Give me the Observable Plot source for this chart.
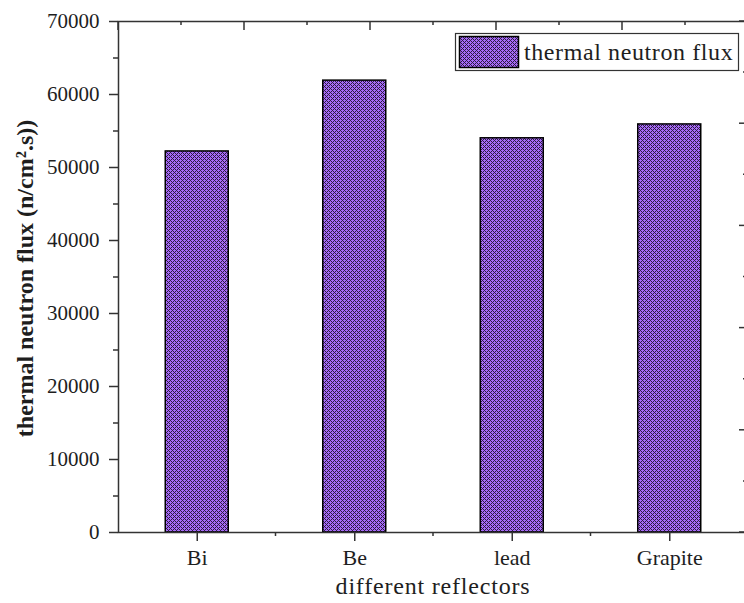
<!DOCTYPE html>
<html>
<head>
<meta charset="utf-8">
<script src="https://cdn.jsdelivr.net/npm/d3@7"></script>
<script src="https://cdn.jsdelivr.net/npm/@observablehq/plot@0.6"></script>
<style>
  html, body { margin: 0; padding: 0; overflow: hidden; background: #fff; }
  #chart { width: 744px; height: 603px; overflow: hidden; position: relative; }
  #chart svg { display: block; max-width: none !important; }
</style>
</head>
<body>
<div id="chart"></div>
<script>
// Thermal neutron flux for each reflector material
const reflectors = ["Bi", "Be", "lead", "Grapite"];
const thermalFlux = [52200, 61900, 54000, 55900];

// Axis ticks
const yMajorTicks = [0, 10000, 20000, 30000, 40000, 50000, 60000, 70000];
const yMinorTicks = [5000, 15000, 25000, 35000, 45000, 55000, 65000];
const yDomain = [0, 70000];

// Texts
const seriesName = "thermal neutron flux";
const xTitle = "different reflectors";
const yTitle = "thermal neutron flux (n/cm\u00B2.s))";

const data = reflectors.map((r, i) => ({ reflector: r, flux: thermalFlux[i] }));

const W = 752, H = 603;
const mL = 118, mR = 4, mT = 21, mB = 71;
const serif = "'Liberation Serif', 'Times New Roman', Times, serif";
const ink = "#1e1e1e";
const axisInk = "#333";
const purple = "#a66af7";
const purpleDark = "#2e1c44";

const plot = Plot.plot({
  width: W,
  height: H,
  marginLeft: mL,
  marginRight: mR,
  marginTop: mT,
  marginBottom: mB,
  style: { fontFamily: serif, color: ink, background: "transparent", overflow: "visible" },
  x: { domain: reflectors, paddingInner: 0.6, paddingOuter: 0.3, align: 0.5, round: false },
  y: { domain: yDomain },
  marks: [
    Plot.barY(data, { x: "reflector", y: "flux", fill: "url(#hatch)", stroke: "#000", strokeWidth: 1.5 }),
    Plot.axisY({ ticks: yMajorTicks, tickSize: 9, tickPadding: 10, tickFormat: d => String(d),
                 fontSize: 21, stroke: axisInk, strokeWidth: 1.5, label: null }),
    Plot.axisY({ ticks: yMinorTicks, tickSize: 5, tickFormat: () => "", stroke: axisInk, strokeWidth: 1.5, label: null }),
    Plot.axisX({ tickSize: 9, tickPadding: 8, fontSize: 22, stroke: axisInk, strokeWidth: 1.5, label: null }),
    Plot.frame({ stroke: axisInk, strokeWidth: 1.5 })
  ]
});

document.getElementById("chart").appendChild(plot);

const svg = d3.select(plot);

// Cross-hatch fill used by the bars and the legend swatch
const defs = svg.insert("defs", ":first-child");
const pat = defs.append("pattern")
  .attr("id", "hatch")
  .attr("patternUnits", "userSpaceOnUse")
  .attr("width", 4).attr("height", 4)
  .attr("shape-rendering", "crispEdges");
pat.append("rect").attr("width", 4).attr("height", 4).attr("fill", purple);
[[2, 0], [1, 1], [3, 1], [0, 2], [1, 3], [3, 3]].forEach(([cx, cy]) => {
  pat.append("rect").attr("x", cx).attr("y", cy).attr("width", 1).attr("height", 1).attr("fill", purpleDark);
});

const deco = svg.append("g").attr("stroke", axisInk).attr("stroke-width", 1.5);

// Minor ticks between categories on the bottom axis
const xs = plot.scale("x");
const centers = reflectors.map(r => xs.apply(r) + xs.bandwidth / 2);
const step = centers[1] - centers[0];
const yBottom = H - mB;
centers.slice(0, -1).forEach(c => {
  deco.append("line").attr("x1", c + step / 2).attr("x2", c + step / 2)
    .attr("y1", yBottom).attr("y2", yBottom + 4);
});

// Secondary top and right axes (ticks only, pointing inward)
const top2 = d3.scaleLinear().domain([0, 5]).range([mL, W - mR]);
const right2 = d3.scaleLinear().domain([0, 5]).range([H - mB, mT]);
d3.range(0, 5.01, 0.5).forEach(v => {
  const major = Math.abs(v - Math.round(v)) < 1e-9;
  deco.append("line").attr("x1", top2(v)).attr("x2", top2(v))
    .attr("y1", mT).attr("y2", mT + (major ? 9 : 4));
  deco.append("line").attr("y1", right2(v)).attr("y2", right2(v))
    .attr("x1", W - mR).attr("x2", W - mR - (major ? 9 : 5));
});

// Axis titles
svg.append("text")
  .attr("transform", `translate(33,${(mT + H - mB) / 2 + 2}) rotate(-90)`)
  .attr("text-anchor", "middle")
  .attr("font-family", serif)
  .attr("font-weight", "bold")
  .attr("font-size", 24)
  .attr("fill", ink)
  .text(yTitle);

svg.append("text")
  .attr("x", (mL + W - mR) / 2)
  .attr("y", 594)
  .attr("text-anchor", "middle")
  .attr("font-family", serif)
  .attr("font-size", 24)
  .attr("letter-spacing", 0.8)
  .attr("fill", ink)
  .text(xTitle);

// Legend box inside the plot area
const lg = svg.append("g");
lg.append("rect").attr("x", 455.5).attr("y", 33.5).attr("width", 283).attr("height", 37)
  .attr("fill", "#fff").attr("stroke", axisInk).attr("stroke-width", 1.2);
lg.append("rect").attr("x", 459.5).attr("y", 36.5).attr("width", 59).attr("height", 31)
  .attr("fill", "url(#hatch)").attr("stroke", "#000").attr("stroke-width", 1.5);
lg.append("text").attr("x", 524).attr("y", 59.5)
  .attr("text-anchor", "start")
  .attr("font-family", serif).attr("font-size", 24).attr("letter-spacing", 0.6).attr("fill", ink)
  .text(seriesName);
</script>
</body>
</html>
